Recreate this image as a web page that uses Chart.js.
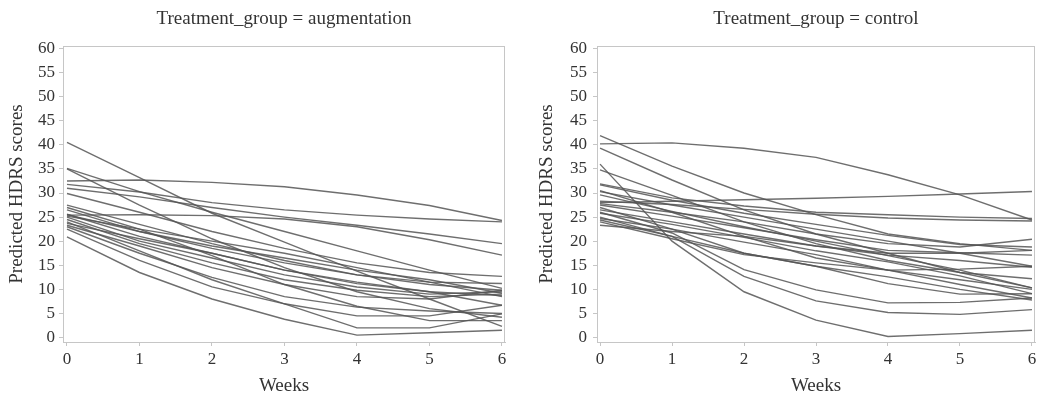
<!DOCTYPE html>
<html>
<head>
<meta charset="utf-8">
<script src="https://cdn.jsdelivr.net/npm/chart.js@4.4.1/dist/chart.umd.min.js"></script>
<style>
  body { margin: 0; background: #fff; }
  .panel { position: absolute; top: 0; }
</style>
</head>
<body>
<div class="panel" style="left:0"><canvas id="augChart" width="522" height="396"></canvas></div>
<div class="panel" style="left:522px"><canvas id="ctrlChart" width="523" height="396"></canvas></div>
<script>
const weeks = [0, 1, 2, 3, 4, 5, 6];
const scoreTicks = [0, 5, 10, 15, 20, 25, 30, 35, 40, 45, 50, 55, 60];

// predicted HDRS per subject, one array per subject (weeks 0..6)
const augmentation = [
  [32.5, 32.7, 32.2, 31.3, 29.6, 27.4, 24.3],
  [40.5, 33.2, 25.8, 19.8, 13.8, 8.0, 2.3],
  [35.1, 30.3, 26.0, 22.0, 18.0, 14.0, 10.2],
  [35.0, 27.5, 20.5, 14.5, 9.5, 6.0, 4.2],
  [31.8, 30.2, 28.0, 26.5, 25.4, 24.6, 24.0],
  [31.0, 29.2, 27.0, 25.0, 23.3, 21.5, 19.5],
  [25.4, 25.5, 25.3, 24.6, 23.0, 20.3, 17.1],
  [29.9, 26.0, 22.0, 18.5, 15.5, 13.5, 12.7],
  [27.5, 23.5, 19.5, 16.0, 13.0, 11.0, 9.8],
  [26.5, 22.0, 18.5, 15.5, 13.0, 11.5, 11.2],
  [25.5, 22.0, 19.0, 16.5, 14.0, 12.0, 9.2],
  [25.2, 22.5, 20.0, 17.5, 14.5, 11.5, 8.5],
  [25.0, 20.0, 16.5, 13.0, 10.5, 9.0, 9.5],
  [24.5, 19.5, 15.5, 12.0, 9.8, 8.5, 9.0],
  [23.7, 20.5, 17.5, 14.0, 11.5, 9.5, 6.7],
  [23.3, 19.0, 14.5, 11.0, 8.5, 8.0, 9.8],
  [23.0, 17.5, 12.5, 8.5, 6.3, 5.5, 5.0],
  [20.9, 13.5, 8.0, 3.8, 0.5, 1.0, 1.5],
  [24.0, 18.0, 12.0, 7.0, 4.5, 4.5, 6.7],
  [22.5, 16.0, 10.5, 7.0, 2.0, 2.0, 4.9],
  [27.0, 22.5, 17.0, 11.0, 6.5, 3.5, 3.5],
  [25.6, 21.0, 17.5, 14.0, 11.2, 9.5, 8.7]
];

const control = [
  [40.2, 40.4, 39.3, 37.4, 33.8, 29.6, 24.4],
  [41.9, 35.6, 30.0, 25.5, 21.5, 19.5, 18.1],
  [39.3, 32.7, 26.5, 21.5, 17.5, 13.5, 10.3],
  [36.0, 20.0, 9.5, 3.6, 0.2, 0.8, 1.5],
  [34.8, 29.5, 24.0, 19.5, 16.0, 13.5, 12.2],
  [28.0, 28.3, 28.6, 28.9, 29.3, 29.8, 30.3],
  [31.9, 29.0, 27.3, 26.0, 25.5, 25.0, 24.7],
  [31.7, 28.5, 25.8, 23.5, 21.2, 19.3, 18.8],
  [30.3, 27.5, 25.0, 22.5, 20.0, 17.5, 14.8],
  [29.6, 26.2, 23.0, 20.0, 17.0, 14.0, 10.3],
  [28.3, 27.6, 26.6, 25.6, 24.8, 24.4, 24.2],
  [27.8, 26.0, 24.0, 21.5, 19.5, 18.8, 20.4],
  [27.5, 25.2, 22.8, 20.3, 18.1, 17.6, 17.1],
  [26.5, 24.0, 21.5, 19.0, 17.1, 16.0, 14.6],
  [25.8, 23.5, 20.8, 18.0, 15.7, 12.8, 9.1],
  [24.7, 22.5, 19.8, 17.2, 14.0, 11.0, 8.2],
  [24.4, 21.0, 17.5, 14.8, 12.6, 10.0, 7.8],
  [23.3, 22.0, 21.0, 19.0, 17.5, 17.5, 18.1],
  [26.0, 21.7, 14.1, 9.9, 7.2, 7.3, 8.2],
  [27.0, 22.5, 17.5, 14.8, 11.2, 9.0, 9.1],
  [30.5, 26.0, 21.0, 16.5, 14.0, 12.0, 10.0],
  [25.0, 21.0, 12.7, 7.6, 5.2, 4.8, 5.8],
  [24.0, 20.5, 17.2, 15.5, 14.0, 14.2, 14.8]
];

const serif = "'Liberation Serif', 'Times New Roman', serif";
const textColor = "#333";
const axisColor = "#c6c6c6";
const lineColor = "rgba(85, 85, 85, 0.85)";

// box around the plot area (the axes only draw left and bottom)
const frame = {
  id: "frame",
  beforeDatasetsDraw(chart) {
    const { ctx, chartArea: a } = chart;
    ctx.save();
    ctx.strokeStyle = axisColor;
    ctx.lineWidth = 1;
    ctx.strokeRect(Math.round(a.left) + 0.5, Math.round(a.top) + 0.5,
      Math.round(a.right - a.left) - 1, Math.round(a.bottom - a.top));
    ctx.restore();
  }
};

function createPanel(id, title, series, opts) {
  const datasets = series.map(s => ({
    data: weeks.map((w, i) => ({ x: w, y: s[i] })),
    borderColor: lineColor,
    borderWidth: 1.4,
    pointRadius: 0,
    fill: false,
    tension: 0
  }));
  return new Chart(document.getElementById(id), {
    type: "line",
    data: { datasets: datasets },
    options: {
      responsive: false,
      animation: false,
      devicePixelRatio: 1,
      layout: { padding: { left: 0, right: opts.padRight, top: 0, bottom: 0 } },
      plugins: {
        legend: { display: false },
        tooltip: { enabled: false },
        title: {
          display: true,
          text: title,
          fullSize: false,
          color: textColor,
          font: { family: serif, size: 19, weight: "normal", lineHeight: 1.2 },
          padding: { top: 7.6, bottom: 15.6 }
        }
      },
      scales: {
        x: {
          type: "linear",
          min: opts.xMin,
          max: opts.xMax,
          afterBuildTicks: s => { s.ticks = weeks.map(v => ({ value: v })); },
          afterFit: s => { s.height = 54; },
          grid: { drawOnChartArea: false, tickLength: 4, color: axisColor },
          border: { color: axisColor },
          ticks: { color: textColor, font: { family: serif, size: 17 }, padding: 3, maxRotation: 0, autoSkip: false },
          title: {
            display: true,
            text: "Weeks",
            color: textColor,
            font: { family: serif, size: 19, lineHeight: 1 },
            padding: { top: 0, bottom: 0 }
          }
        },
        y: {
          min: -0.93,
          max: 60.52,
          afterBuildTicks: s => { s.ticks = scoreTicks.map(v => ({ value: v })); },
          afterFit: s => { s.width = opts.axisWidth; },
          grid: { drawOnChartArea: false, tickLength: 4, color: axisColor },
          border: { color: axisColor },
          ticks: { color: textColor, font: { family: serif, size: 17 }, padding: opts.tickPad, autoSkip: false },
          title: {
            display: true,
            text: "Predicted HDRS scores",
            color: textColor,
            font: { family: serif, size: 19, lineHeight: 1 },
            padding: { top: opts.titlePad, bottom: 0 }
          }
        }
      }
    },
    plugins: [frame]
  });
}

createPanel("augChart", "Treatment_group = augmentation", augmentation,
  { axisWidth: 63, padRight: 17, tickPad: 4, titlePad: 7.5, xMin: -0.055, xMax: 6.042 });
createPanel("ctrlChart", "Treatment_group = control", control,
  { axisWidth: 75, padRight: 10, tickPad: 6, titlePad: 15.5, xMin: -0.042, xMax: 6.042 });
</script>
</body>
</html>
